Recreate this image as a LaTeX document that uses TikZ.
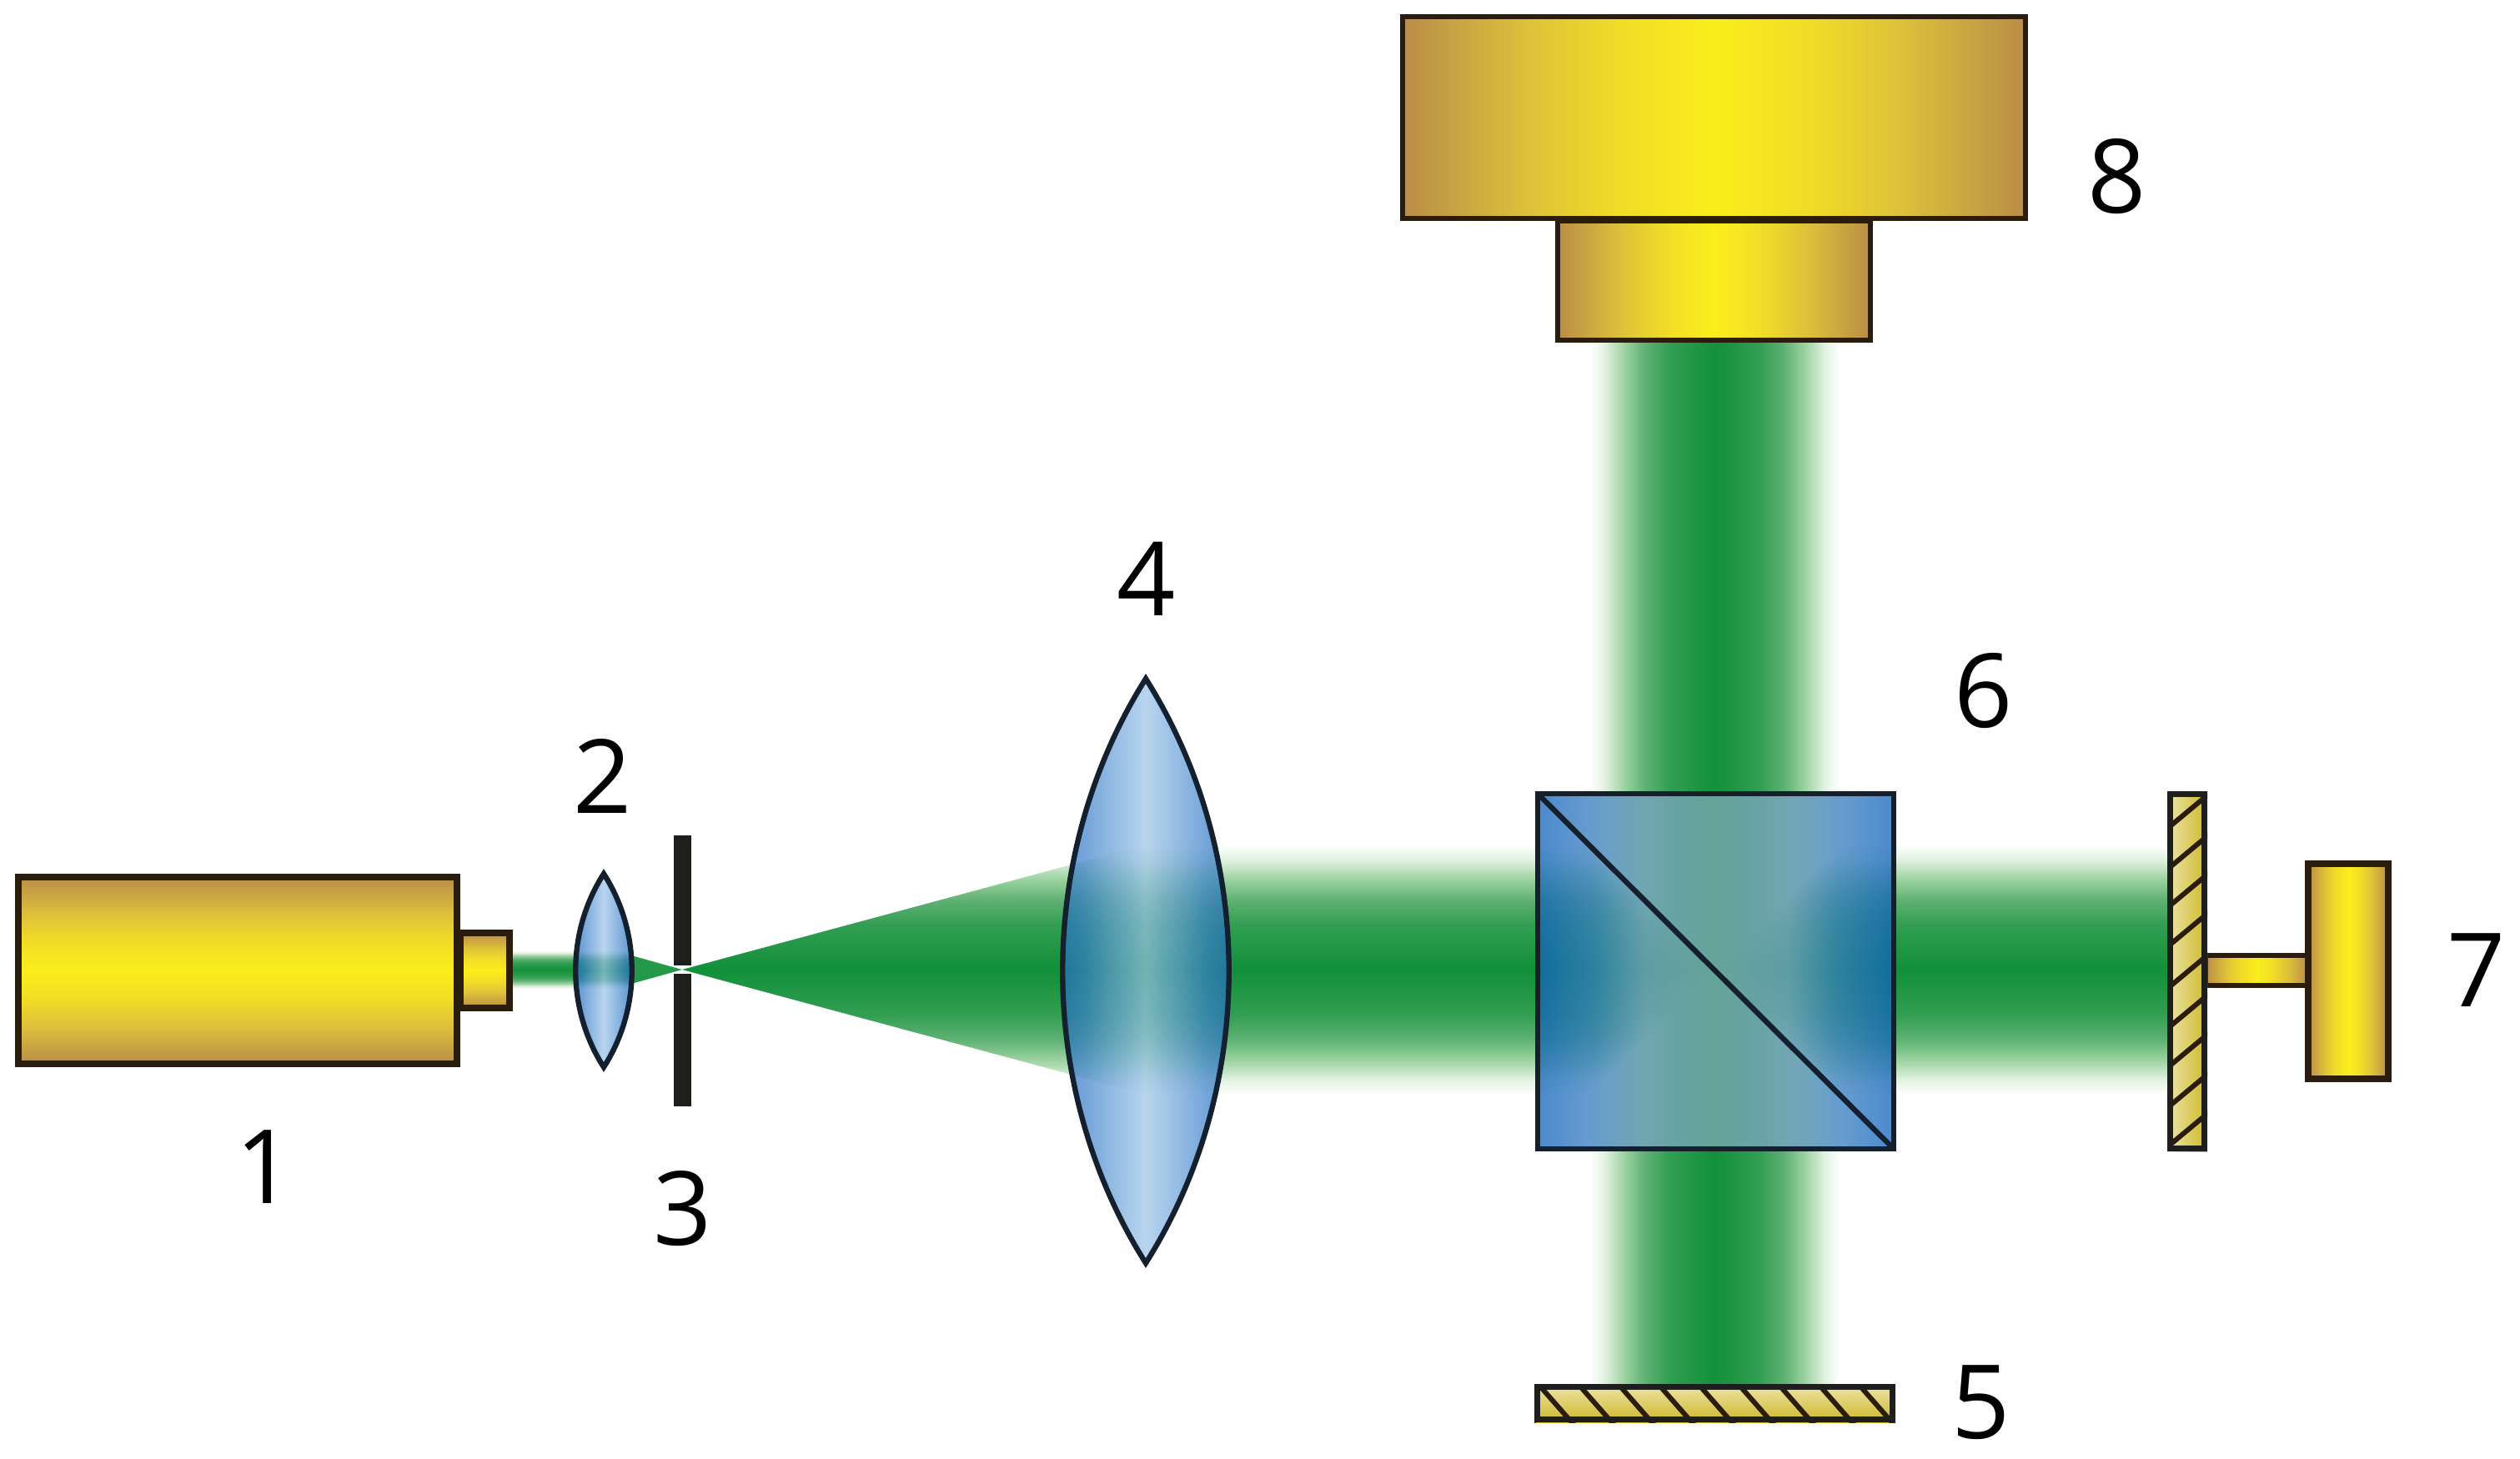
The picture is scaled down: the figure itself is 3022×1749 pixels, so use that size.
\documentclass[tikz,border=0pt]{standalone}
\usepackage{fontspec}
\setmainfont{Open Sans}
\definecolor{goldA}{RGB}{185,141,71}
\definecolor{goldB}{RGB}{222,192,58}
\definecolor{goldC}{RGB}{240,220,40}
\definecolor{goldD}{RGB}{250,238,27}
\definecolor{beamA}{RGB}{18,144,58}
\definecolor{beamB}{RGB}{50,158,82}
\definecolor{beamC}{RGB}{95,178,115}
\definecolor{beamD}{RGB}{155,210,160}
\definecolor{beamE}{RGB}{225,242,225}
\definecolor{lensA}{RGB}{15,90,190}
\definecolor{lensB}{RGB}{55,125,200}
\definecolor{lensC}{RGB}{155,195,232}
\definecolor{cubeA}{RGB}{15,98,190}
\definecolor{cubeB}{RGB}{55,125,190}
\definecolor{cubeC}{RGB}{120,162,200}
\definecolor{cubeD}{RGB}{130,170,185}
\definecolor{inkB}{RGB}{43,29,14}
\definecolor{inkC}{RGB}{20,32,46}
\definecolor{inkS}{RGB}{30,30,28}
\definecolor{hatchL}{RGB}{238,228,170}
\definecolor{hatchD}{RGB}{205,185,40}
\newcommand{\stopsGold}{color(0bp)=(goldA); color(25bp)=(goldA); color(35bp)=(goldB); color(42bp)=(goldC); color(50bp)=(goldD); color(58bp)=(goldC); color(65bp)=(goldB); color(75bp)=(goldA); color(100bp)=(goldA)}
\newcommand{\stopsBeam}{color(0bp)=(white); color(25bp)=(white); color(28bp)=(beamE); color(32bp)=(beamD); color(36bp)=(beamC); color(41bp)=(beamB); color(50bp)=(beamA); color(59bp)=(beamB); color(64bp)=(beamC); color(68bp)=(beamD); color(72bp)=(beamE); color(75bp)=(white); color(100bp)=(white)}
\pgfdeclareverticalshading{goldv}{100bp}{\stopsGold}
\pgfdeclarehorizontalshading{goldh}{100bp}{\stopsGold}
\pgfdeclareverticalshading{beamv}{100bp}{\stopsBeam}
\pgfdeclarehorizontalshading{beamh}{100bp}{\stopsBeam}
\pgfdeclarehorizontalshading{lensh}{100bp}{color(0bp)=(lensA); color(25bp)=(lensA); color(36bp)=(lensB); color(50bp)=(lensC); color(64bp)=(lensB); color(75bp)=(lensA); color(100bp)=(lensA)}
\pgfdeclarehorizontalshading{cubeh}{100bp}{color(0bp)=(cubeA); color(25bp)=(cubeA); color(33bp)=(cubeB); color(40bp)=(cubeC); color(50bp)=(cubeD); color(60bp)=(cubeC); color(67bp)=(cubeB); color(75bp)=(cubeA); color(100bp)=(cubeA)}
\tikzset{
  px/.style={x=0.02cm,y=-0.02cm},
  goldbody/.style={draw=inkB,line width=4.4pt,line join=miter},
  goldthin/.style={draw=inkB,line width=3.4pt,line join=miter},
  hatchline/.style={draw=inkB,line width=3.4pt},
  hatchframe/.style={draw=inkS,line width=4pt},
  glassline/.style={draw=inkC,line width=3.6pt,line join=miter},
  num/.style={inner sep=0pt,font=\fontsize{70}{70}\selectfont,text=black},
}
\begin{document}
\begin{tikzpicture}[px]
\useasboundingbox (0,0) rectangle (3022,1749);
% beams
\shade[shading=beamv] (615,1140) rectangle (759,1186);
\fill[beamA!92!white] (757,1146) -- (818,1163) -- (757,1180) -- cycle;
\shade[shading=beamv] (818,1163) -- (1374,1013) -- (1374,1313) -- cycle;
\shade[shading=beamv] (1374,1013) rectangle (2602,1313);
\shade[shading=beamh,blend mode=darken] (1906,409) rectangle (2206,1662);
% laser
\shadedraw[shading=goldv,goldbody] (22,1052) rectangle (548,1276);
\shadedraw[shading=goldv,goldbody] (552,1119) rectangle (611,1209);
% small lens
\shade[shading=lensh,opacity=.7] (724,1048) .. controls (769,1118) and (769,1210) .. (724,1280) .. controls (679,1210) and (679,1118) .. (724,1048) -- cycle;
\draw[glassline] (724,1048) .. controls (769,1118) and (769,1210) .. (724,1280) .. controls (679,1210) and (679,1118) .. (724,1048) -- cycle;
% slit
\fill[inkS] (808,1002) rectangle (829,1158);
\fill[inkS] (808,1168) rectangle (829,1327);
% large lens
\shade[shading=lensh,opacity=.7] (1374,814) .. controls (1507,1025) and (1507,1305) .. (1374,1515) .. controls (1241,1305) and (1241,1025) .. (1374,814) -- cycle;
\draw[glassline] (1374,814) .. controls (1507,1025) and (1507,1305) .. (1374,1515) .. controls (1241,1305) and (1241,1025) .. (1374,814) -- cycle;
% cube
\shade[shading=cubeh,opacity=.75] (1844,952) rectangle (2271,1378);
\draw[glassline] (1844,952) rectangle (2271,1378);
\draw[glassline] (1844,952) -- (2271,1378);
% camera
\shadedraw[shading=goldh,goldthin] (1868,265) rectangle (2243,408);
\shadedraw[shading=goldh,goldthin] (1682,20) rectangle (2429,262);
% mirror 5
\shade[top color=hatchL,bottom color=hatchD] (1840,1660) rectangle (2273,1706);
\begin{scope}
\clip (1840,1660) rectangle (2273,1706);
\foreach \xs in {1802,1850,1898,1946,1994,2042,2090,2138,2186,2234}
  \draw[hatchline] (\xs-10,1655) -- (\xs+41,1713);
\end{scope}
\draw[hatchframe] (1843.5,1663.5) rectangle (2269.5,1702.5);
% stick and block of 7
\shadedraw[shading=goldh,goldthin] (2645,1146) rectangle (2768,1182);
\shadedraw[shading=goldh,goldbody] (2768,1036) rectangle (2864,1294);
% mirror 7
\shade[left color=hatchL,right color=hatchD] (2599,949) rectangle (2647,1381);
\begin{scope}
\clip (2599,949) rectangle (2647,1381);
\foreach \ys in {988,1037,1083,1130,1180,1228,1275,1323,1370}
  \draw[hatchline] (2590,\ys+13.3) -- (2656,\ys-41.7);
\end{scope}
\draw[hatchframe] (2602.5,952.5) rectangle (2643.5,1377.5);
% labels
\node[num] (n1) at (318,1400) {1};
\node[num] (n2) at (723,931) {2};
\node[num] (n3) at (819,1450) {3};
\node[num] (n4) at (1375,694) {4};
\node[num] (n5) at (2376,1682) {5};
\node[num] (n6) at (2379,829) {6};
\node[num] (n7) at (2970,1164) {7};
\node[num] (n8) at (2539,212) {8};
\end{tikzpicture}
\end{document}
